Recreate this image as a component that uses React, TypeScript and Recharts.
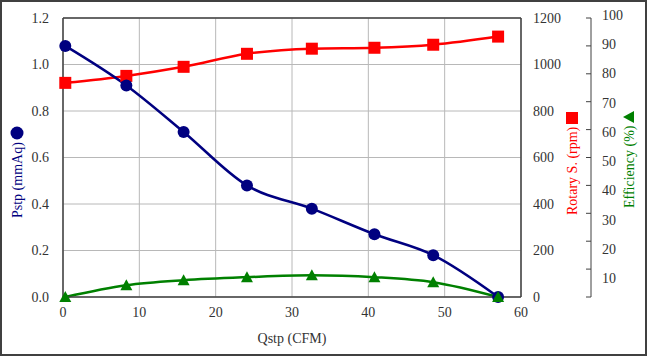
import React from "react";
import {
  CartesianGrid,
  ComposedChart,
  Line,
  ReferenceLine,
  XAxis,
  YAxis,
} from "recharts";

// values
const qstp = [0.3, 8.3, 15.8, 24.1, 32.6, 40.8, 48.5, 57.0];
const pstp = [1.08, 0.91, 0.71, 0.48, 0.38, 0.27, 0.18, 0.0];
const rotary = [921, 951, 990, 1046, 1068, 1072, 1085, 1120];
const efficiency = [0, 4.2, 6.0, 7.1, 7.8, 7.1, 5.3, 0];

const xTicks = [0, 10, 20, 30, 40, 50, 60];
const pTicks = [0, 0.2, 0.4, 0.6, 0.8, 1.0, 1.2];
const rpmTicks = [0, 200, 400, 600, 800, 1000, 1200];
const effTicks = [0, 10, 20, 30, 40, 50, 60, 70, 80, 90, 100];

const NAVY = "#000080";
const RED = "#ff0000";
const GREEN = "#008000";
const INK = "#333333";
const FRAME = "#404040";
const FONT = '"Liberation Serif", "Times New Roman", serif';

// right axes are laid out in id order, so rpm must sort before eff
const RPM_AXIS = "a-rpm";
const EFF_AXIS = "b-eff";

const data = qstp.map((q, i) => ({
  q,
  pstp: pstp[i],
  rpm: rotary[i],
  eff: efficiency[i],
}));

const tickStyle = { fill: INK, fontSize: 14, fontFamily: FONT };

function SquareDot(props: any) {
  const { cx, cy, index } = props;
  if (cx == null || cy == null) return <g key={`s${index}`} />;
  return <rect key={`s${index}`} x={cx - 6} y={cy - 6} width={12} height={12} fill={RED} />;
}

function TriangleDot(props: any) {
  const { cx, cy, index } = props;
  if (cx == null || cy == null) return <g key={`t${index}`} />;
  return (
    <polygon
      key={`t${index}`}
      points={`${cx},${cy - 6} ${cx + 6},${cy + 5} ${cx - 6},${cy + 5}`}
      fill={GREEN}
    />
  );
}

function makeTick(anchor: "start" | "end" | "middle", fmt: (v: number) => string, dyEm: string) {
  return function Tick(props: any) {
    const { x, y, payload } = props;
    return (
      <text x={x} y={y} dy={dyEm} textAnchor={anchor} {...tickStyle}>
        {fmt(payload.value)}
      </text>
    );
  };
}

const XTick = makeTick("middle", (v) => String(v), "0.71em");
const PTick = makeTick("end", (v) => v.toFixed(1), "0.35em");
const RpmTick = makeTick("start", (v) => String(v), "0.35em");

// efficiency axis: small ticks pointing into the chart, labels to the right
function EffTick(props: any) {
  const { x, y, payload } = props;
  const v = payload.value as number;
  // Excel spaced the labels a bit wider than the tick marks
  const shift = -3 + ((100 - v) / 90) * 12;
  return (
    <g>
      <line x1={x - 5} x2={x} y1={y} y2={y} stroke={FRAME} strokeWidth={1} />
      {v > 0 && (
        <text x={x + 11} y={y + shift} dy="0.35em" textAnchor="start" {...tickStyle}>
          {v}
        </text>
      )}
    </g>
  );
}

function XTitle(props: any) {
  const { x, y, width } = props.viewBox;
  return (
    <text x={x + width / 2} y={y + 41} dy="0.35em" textAnchor="middle" {...tickStyle}>
      Qstp (CFM)
    </text>
  );
}

function PstpTitle(props: any) {
  const { x, y } = props.viewBox;
  const cx = x + 17;
  const base = y + 200;
  return (
    <g>
      <text
        x={cx}
        y={base}
        dy="0.35em"
        textAnchor="start"
        transform={`rotate(-90, ${cx}, ${base})`}
        fill={NAVY}
        fontSize={14}
        fontFamily={FONT}
      >
        Pstp (mmAq)
      </text>
      <circle cx={cx} cy={y + 115} r={6.5} fill={NAVY} />
    </g>
  );
}

function RpmTitle(props: any) {
  const { x, y } = props.viewBox;
  const cx = x + 51;
  const base = y + 197;
  return (
    <g>
      <text
        x={cx}
        y={base}
        dy="0.35em"
        textAnchor="start"
        transform={`rotate(-90, ${cx}, ${base})`}
        fill={RED}
        fontSize={14}
        fontFamily={FONT}
      >
        Rotary S. (rpm)
      </text>
      <rect x={cx - 6} y={y + 94} width={12} height={12} fill={RED} />
    </g>
  );
}

function EffTitle(props: any) {
  const { x, y } = props.viewBox;
  const cx = x + 38;
  const base = y + 190;
  const ty = y + 99;
  return (
    <g>
      <text
        x={cx}
        y={base}
        dy="0.35em"
        textAnchor="start"
        transform={`rotate(-90, ${cx}, ${base})`}
        fill={GREEN}
        fontSize={14}
        fontFamily={FONT}
      >
        Efficiency (%)
      </text>
      <polygon points={`${cx - 6},${ty} ${cx + 5},${ty - 6} ${cx + 5},${ty + 6}`} fill={GREEN} />
    </g>
  );
}

export default function App() {
  return (
    <div
      style={{
        position: "absolute",
        left: 0,
        top: 0,
        width: 647,
        height: 356,
        background: "#fff",
        fontFamily: FONT,
      }}
    >
      <ComposedChart
        width={647}
        height={356}
        data={data}
        margin={{ top: 18, right: 0, bottom: 29, left: 0 }}
      >
        <CartesianGrid stroke="#b8b8b8" strokeWidth={1} horizontalValues={pTicks} verticalValues={xTicks} />
        <XAxis
          dataKey="q"
          type="number"
          domain={[0, 60]}
          ticks={xTicks}
          tickLine={false}
          tickSize={0}
          tickMargin={10}
          height={30}
          axisLine={{ stroke: FRAME, strokeWidth: 1.5 }}
          tick={XTick}
          label={XTitle}
        />
        <YAxis
          type="number"
          domain={[0, 1.2]}
          ticks={pTicks}
          width={63}
          tickLine={false}
          tickSize={0}
          tickMargin={14}
          axisLine={{ stroke: FRAME, strokeWidth: 1.5 }}
          tick={PTick}
          label={PstpTitle}
        />
        <YAxis
          yAxisId={RPM_AXIS}
          orientation="right"
          type="number"
          domain={[0, 1200]}
          ticks={rpmTicks}
          width={70}
          tickLine={false}
          tickSize={0}
          tickMargin={12}
          axisLine={{ stroke: FRAME, strokeWidth: 1.5 }}
          tick={RpmTick}
          label={RpmTitle}
        />
        <YAxis
          yAxisId={EFF_AXIS}
          orientation="right"
          type="number"
          domain={[0, 100]}
          ticks={effTicks}
          width={56}
          tickLine={false}
          tickSize={0}
          tickMargin={0}
          axisLine={{ stroke: FRAME, strokeWidth: 1 }}
          tick={EffTick}
          label={EffTitle}
        />
        <ReferenceLine y={1.2} stroke={FRAME} strokeWidth={1.5} ifOverflow="visible" />
        <Line
          dataKey="rpm"
          yAxisId={RPM_AXIS}
          type="monotone"
          stroke={RED}
          strokeWidth={2.5}
          dot={SquareDot}
          activeDot={false}
          isAnimationActive={false}
        />
        <Line
          dataKey="pstp"
          type="monotone"
          stroke={NAVY}
          strokeWidth={2.5}
          dot={{ r: 6, fill: NAVY, stroke: NAVY, strokeWidth: 0 }}
          activeDot={false}
          isAnimationActive={false}
        />
        <Line
          dataKey="eff"
          yAxisId={EFF_AXIS}
          type="monotone"
          stroke={GREEN}
          strokeWidth={2.5}
          dot={TriangleDot}
          activeDot={false}
          isAnimationActive={false}
        />
      </ComposedChart>
      <div
        style={{
          position: "absolute",
          left: 0,
          top: 0,
          width: 647,
          height: 356,
          boxSizing: "border-box",
          border: `2px solid ${FRAME}`,
          pointerEvents: "none",
        }}
      />
    </div>
  );
}
